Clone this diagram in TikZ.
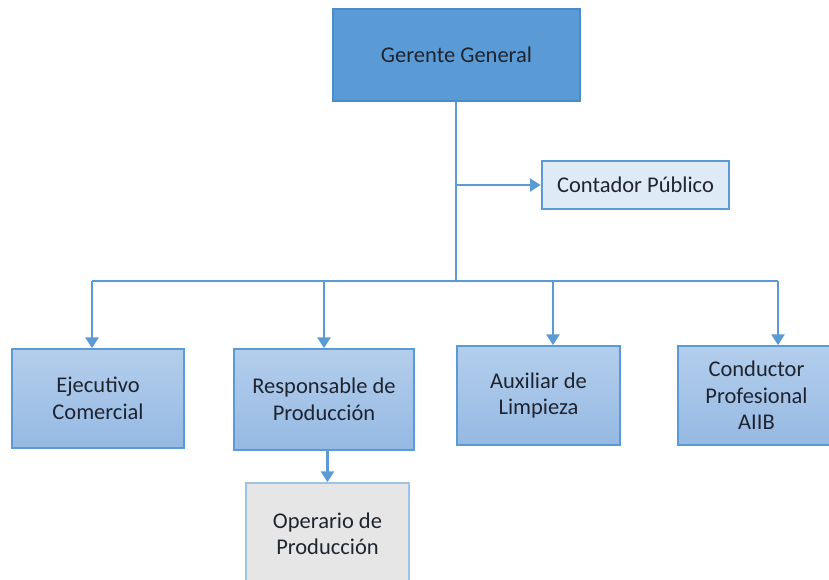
\documentclass[tikz,border=0pt]{standalone}
\usepackage{fontspec}
\setmainfont{Carlito}
\usetikzlibrary{arrows.meta}
\definecolor{lineblue}{HTML}{5B9BD5}
\definecolor{gerfill}{HTML}{5B9BD5}
\definecolor{gerdraw}{HTML}{4A8CCB}
\definecolor{contfill}{HTML}{DEEBF7}
\definecolor{lvltop}{HTML}{B4CEEC}
\definecolor{lvlbot}{HTML}{95B9E3}
\definecolor{opfill}{HTML}{E7E6E6}
\definecolor{opdraw}{HTML}{9DC3E6}
\definecolor{txt}{HTML}{1E2430}
\tikzset{
  box/.style={draw, align=center, text=txt, inner sep=2pt,
    font=\fontsize{22.5}{26.5}\selectfont},
  gerbox/.style={box, fill=gerfill, draw=gerdraw, line width=1.5pt},
  contbox/.style={box, fill=contfill, draw=lineblue, line width=2.5pt},
  lvlbox/.style={box, top color=lvltop, bottom color=lvlbot, draw=lineblue, line width=1.5pt},
  opbox/.style={box, fill=opfill, draw=opdraw, line width=1.5pt},
  conn/.style={draw=lineblue, line width=2.8pt},
  arr/.style={conn, -{Triangle[width=13pt,length=11pt]}}
}
\begin{document}
\begin{tikzpicture}[x=1pt,y=-1pt]
\useasboundingbox (0,0) rectangle (829,580);
\clip (0,0) rectangle (829,580);
\node[gerbox, minimum width=247pt, minimum height=92pt] (ger) at (456.5,55) {Gerente General};
\node[contbox, minimum width=187pt, minimum height=48pt] (cont) at (635.5,185) {Contador Público};
\node[lvlbox, minimum width=172pt, minimum height=99pt] (ejec) at (98,398.5) {Ejecutivo\\Comercial};
\node[lvlbox, minimum width=180pt, minimum height=101pt] (resp) at (324,399.5) {Responsable de\\Producción};
\node[lvlbox, minimum width=163pt, minimum height=99pt] (aux) at (538.5,395.5) {Auxiliar de\\Limpieza};
\node[lvlbox, minimum width=157pt, minimum height=99pt] (cond) at (756.5,395.5) {Conductor\\Profesional\\AIIB};
\node[opbox, minimum width=163pt, minimum height=102pt] (op) at (327.5,534) {Operario de\\Producción};
\coordinate (bus) at (456,281);
\coordinate (bl) at (92,281);
\coordinate (br) at (778,281);
\coordinate (bp) at (324,281);
\coordinate (ba) at (553,281);
\draw[conn] (ger.south -| bus) -- (bus);
\draw[conn] (bl) -- (br);
\draw[arr] (bus |- cont.west) -- (cont.west);
\draw[arr] (bl) -- (bl |- ejec.north);
\draw[arr] (bp) -- (bp |- resp.north);
\draw[arr] (ba) -- (ba |- aux.north);
\draw[arr] (br) -- (br |- cond.north);
\draw[arr] (resp.south -| op.north) -- (op.north);
\end{tikzpicture}
\end{document}
